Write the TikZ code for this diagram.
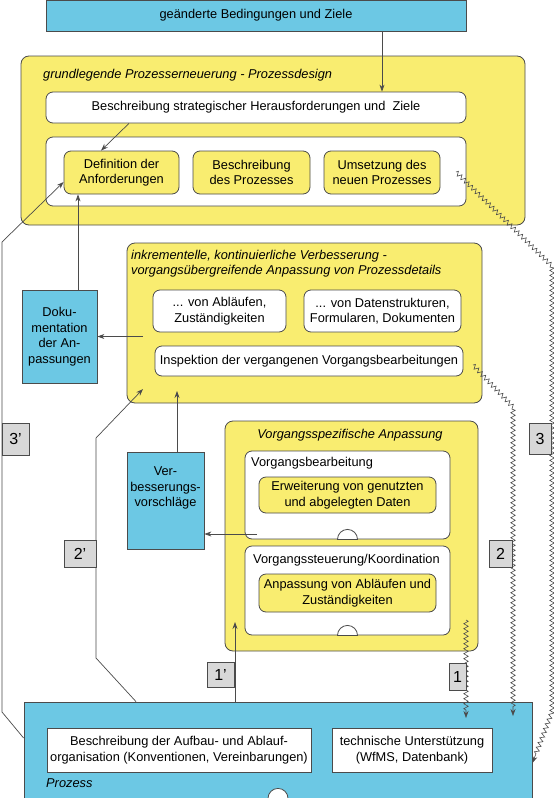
\documentclass[tikz,border=0pt]{standalone}
\usepackage{fontspec}
\setmainfont{Liberation Sans}
\usetikzlibrary{positioning,arrows.meta,calc}
\usetikzlibrary{decorations.pathmorphing}
\definecolor{procblue}{RGB}{108,200,228}
\definecolor{stageyellow}{RGB}{249,237,112}
\definecolor{taggray}{RGB}{216,216,216}
\definecolor{edgegray}{RGB}{75,75,75}
\tikzset{
  bluebox/.style={draw=edgegray, fill=procblue, line width=0.8pt, align=center, inner sep=0pt},
  stage/.style={draw=edgegray, fill=stageyellow, rounded corners=8pt, line width=0.8pt, inner sep=0pt},
  card/.style={draw=edgegray, fill=white, rounded corners=7pt, line width=0.8pt, align=center, inner sep=0pt},
  task/.style={draw=edgegray, fill=stageyellow, rounded corners=7pt, line width=0.8pt, align=center, inner sep=0pt},
  tag/.style={draw=edgegray, fill=taggray, line width=0.8pt, font=\fontsize{16}{16}\selectfont, inner sep=0pt},
  caption/.style={inner sep=0pt, font=\fontsize{12.8}{15.5}\selectfont\itshape},
  flow/.style={draw=edgegray, line width=0.7pt, -{Stealth[length=7pt,width=5pt]}},
  wavy/.style={draw=edgegray, line width=0.6pt, -{Stealth[length=7pt,width=5pt]}, decorate,
    decoration={zigzag,segment length=5pt,amplitude=2.2pt,post length=8pt}}
}

\begin{document}
\begin{tikzpicture}[x=1pt, y=-1pt, font=\fontsize{12.8}{15.5}\selectfont]
  \useasboundingbox (0,0) rectangle (554,798);
  % top
  \node[bluebox, minimum width=420pt, minimum height=31pt] (goals) at (256,15.5) {geänderte Bedingungen und Ziele};
  % grundlegende Prozesserneuerung
  \node[stage, minimum width=504pt, minimum height=169pt] (redesign) at (273,140.5) {};
  \node[caption, anchor=west] (redesigntitle) at (43,75) {grundlegende Prozesserneuerung - Prozessdesign};
  \node[card, minimum width=420pt, minimum height=31pt] (strategy) at (256,107.5) {Beschreibung strategischer Herausforderungen und\ \ Ziele};
  \node[card, minimum width=420pt, minimum height=69pt] (steps) at (256,171.5) {};
  \node[task, minimum width=115pt, minimum height=43pt] (define) at (121.5,172.5) {Definition der\\Anforderungen};
  \node[task, minimum width=117pt, minimum height=43pt] (describe) at (251.5,172.5) {Beschreibung\\des Prozesses};
  \node[task, minimum width=116pt, minimum height=43pt] (implement) at (382,172.5) {Umsetzung des\\neuen Prozesses};
  % inkrementelle Verbesserung
  \node[stage, minimum width=355pt, minimum height=160pt] (improve) at (304.5,323) {};
  \node[caption, anchor=north west, align=left] (improvetitle) at (131,250) {inkrementelle, kontinuierliche Verbesserung -\\vorgangsübergreifende Anpassung von Prozessdetails};
  \node[card, minimum width=133pt, minimum height=42pt] (flows) at (219.5,311) {... von Abläufen,\\Zuständigkeiten};
  \node[card, minimum width=157pt, minimum height=42pt] (datastruct) at (382.5,311) {... von Datenstrukturen,\\Formularen, Dokumenten};
  \node[card, minimum width=308pt, minimum height=30pt] (inspect) at (309,361) {Inspektion der vergangenen Vorgangsbearbeitungen};
  \node[bluebox, minimum width=75pt, minimum height=93pt] (docu) at (59.5,336.5) {Doku-\\mentation\\der An-\\passungen};
  % Vorgangsspezifische Anpassung
  \node[stage, minimum width=253pt, minimum height=230pt] (casewise) at (351.5,536) {};
  \node[caption] (casewisetitle) at (350,435) {Vorgangsspezifische Anpassung};
  \node[card, minimum width=205pt, minimum height=88pt] (handling) at (347.5,495) {};
  \node[inner sep=0pt, anchor=west] (handlingtitle) at (251,463) {Vorgangsbearbeitung};
  \node[task, minimum width=177pt, minimum height=36pt] (extend) at (347.5,495) {Erweiterung von genutzten\\und abgelegten Daten};
  \node[card, minimum width=205pt, minimum height=89pt] (control) at (347.5,590.5) {};
  \node[inner sep=0pt, anchor=west] (controltitle) at (253,560) {Vorgangssteuerung/Koordination};
  \node[task, minimum width=177pt, minimum height=38pt] (adapt) at (347.5,593) {Anpassung von Abläufen und\\Zuständigkeiten};
  \node[bluebox, minimum width=77pt, minimum height=97pt,
    label={[anchor=north, align=center, yshift=-12pt]north:Ver-\\besserungs-\\vorschläge}] (proposals) at (165.5,500.5) {};
  % Prozess
  \node[bluebox, minimum width=508pt, minimum height=96pt] (process) at (278,750) {};
  \node[caption, anchor=west] (processtitle) at (46,783) {Prozess};
  \node[bluebox, fill=white, minimum width=264pt, minimum height=44pt] (organisation) at (179,750) {Beschreibung der Aufbau- und Ablauf-\\organisation (Konventionen, Vereinbarungen)};
  \node[bluebox, fill=white, minimum width=160pt, minimum height=44pt] (support) at (412,750) {technische Unterstützung\\(WfMS, Datenbank)};
  % half circles
  \draw[draw=edgegray, line width=0.8pt, fill=white] ([xshift=-10pt]handling.south) arc[start angle=180, end angle=0, radius=10pt] -- cycle;
  \draw[draw=edgegray, line width=0.8pt, fill=white] ([xshift=-10pt]control.south) arc[start angle=180, end angle=0, radius=10pt] -- cycle;
  \draw[draw=edgegray, line width=0.8pt, fill=white] ([xshift=-10pt]process.south) arc[start angle=180, end angle=0, radius=10pt] -- cycle;
  % free ends inside the boxes
  \coordinate (improveout) at (143,336.5);
  \coordinate (improvein) at (143,389);
  \coordinate (improveup) at (177,391);
  \coordinate (handlingout) at (257,534);
  \coordinate (casewisein) at (235,622);
  \coordinate (wave1) at (466,620);
  \coordinate (wave1end) at (466,718);
  \coordinate (wave2) at (473,365);
  \coordinate (wave2end) at (513,716);
  \coordinate (wave3) at (456,172);
  % arrows
  \draw[flow] ([xshift=126pt]goals.south) -- ([xshift=126pt]goals.south |- strategy.north);
  \draw[flow] ([xshift=-127pt]strategy.south) -- ([xshift=-20.5pt]define.north);
  \draw[flow] ([xshift=18.5pt]docu.north) -- ([xshift=18.5pt]docu.north |- define.south);
  \draw[flow] (improveout) -- (docu.east);
  \draw[flow] ([xshift=11.5pt]proposals.north) -- (improveup);
  \draw[flow] (handlingout) -- (handlingout -| proposals.east);
  \draw[flow] ([xshift=-43pt]process.north) -- (casewisein);
  \draw[flow] ([yshift=12pt]process.west) -- (2,712) -- (2,242) -- ([yshift=-9.5pt]define.west);
  \draw[flow] ([xshift=-142pt]process.north) -- (96,658) -- (96,438) -- (improvein);
  \draw[wavy] (wave1) -- (wave1end);
  \draw[wavy] (wave2) -- (513,407) -- (wave2end);
  \draw[wavy] (wave3) -- (552,266) -- (552,712) -- ([yshift=-13pt]process.east);
  % numbers
  \node[tag, minimum width=27pt, minimum height=32pt] (back3) at (15.5,439) {3'};
  \node[tag, minimum width=32pt, minimum height=27pt] (back2) at (80,553.5) {2'};
  \node[tag, minimum width=27pt, minimum height=25pt] (back1) at (220.5,674.5) {1'};
  \node[tag, minimum width=17pt, minimum height=27pt] (forth1) at (457.5,676.5) {1};
  \node[tag, minimum width=23pt, minimum height=27pt] (forth2) at (500.5,553.5) {2};
  \node[tag, minimum width=22pt, minimum height=31pt] (forth3) at (540,438.5) {3};
\end{tikzpicture}
\end{document}
